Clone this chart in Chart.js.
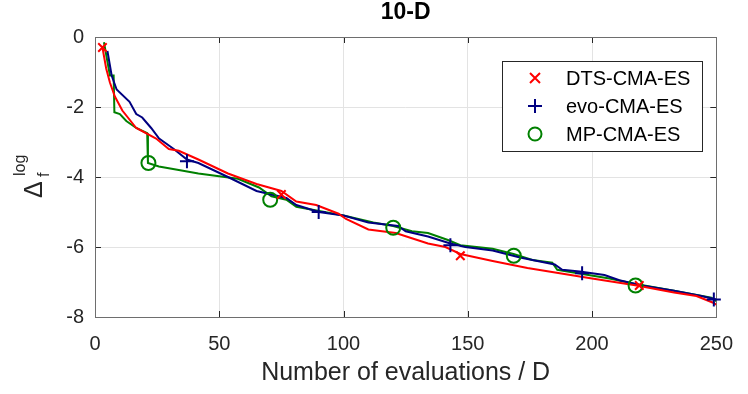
<!DOCTYPE html>
<html>
<head>
<meta charset="utf-8">
<script src="https://cdn.jsdelivr.net/npm/chart.js@4/dist/chart.umd.min.js"></script>
<style>
  html, body { margin: 0; padding: 0; background: #fff; }
  #wrap { width: 748px; height: 394px; }
</style>
</head>
<body>
<div id="wrap"><canvas id="chart" width="748" height="394"></canvas></div>
<script>
// x ticks / y ticks
const xTicks = [0, 50, 100, 150, 200, 250];
const yTicks = [0, -2, -4, -6, -8];

// DTS-CMA-ES (red)
const dtsX = [3, 4.5, 6, 8, 11, 16.6, 24.6, 29.7, 33.7, 41.6, 53.5, 65, 75, 81, 89, 98, 101, 110, 121, 134, 141, 147, 160, 174, 187, 200, 209, 218, 233, 242, 249, 250];
const dtsY = [-0.3, -0.9, -1.3, -1.7, -2.1, -2.6, -2.9, -3.2, -3.25, -3.5, -3.9, -4.2, -4.4, -4.7, -4.8, -5.05, -5.2, -5.5, -5.6, -5.9, -6.0, -6.2, -6.4, -6.6, -6.75, -6.9, -7.0, -7.1, -7.3, -7.4, -7.6, -7.65];
const dtsMarkX = [3, 75, 147, 219];
const dtsMarkY = [-0.3, -4.5, -6.25, -7.1];

// evo-CMA-ES (blue)
const evoX = [5, 6.7, 8.7, 13.9, 16.6, 19, 22.6, 25.8, 31.7, 37, 41.6, 53.5, 65, 77, 81, 90, 100, 110, 122, 125, 134, 143, 149, 160, 171, 185, 188, 195, 205, 211, 220, 233, 244, 250];
const evoY = [-0.4, -1.1, -1.5, -1.85, -2.2, -2.3, -2.6, -2.9, -3.2, -3.5, -3.6, -4.0, -4.4, -4.6, -4.8, -5.0, -5.1, -5.3, -5.4, -5.55, -5.7, -5.9, -6.0, -6.1, -6.3, -6.5, -6.65, -6.7, -6.8, -6.95, -7.1, -7.25, -7.4, -7.5];
const evoMarkX = [37, 90, 143, 196, 249];
const evoMarkY = [-3.55, -5.0, -5.95, -6.75, -7.5];

// MP-CMA-ES (green)
const mpX = [3.6, 6, 7.5, 7.8, 10, 12.6, 16.6, 21, 21.3, 25.7, 33.7, 41.6, 57.5, 66, 71, 77, 81, 88.6, 100, 112, 120, 127.5, 134, 142, 147, 160, 168.4, 176, 184, 186, 207, 217, 233, 248, 250];
const mpY = [-0.15, -1.1, -1.1, -2.15, -2.2, -2.4, -2.6, -2.75, -3.6, -3.7, -3.8, -3.9, -4.05, -4.3, -4.55, -4.65, -4.85, -4.95, -5.1, -5.3, -5.4, -5.55, -5.6, -5.8, -5.95, -6.05, -6.2, -6.37, -6.45, -6.65, -6.9, -7.05, -7.25, -7.45, -7.55];
const mpMarkX = [21.5, 70.5, 120, 168.5, 217.5];
const mpMarkY = [-3.6, -4.65, -5.45, -6.25, -7.1];

const seriesNames = ['DTS-CMA-ES', 'evo-CMA-ES', 'MP-CMA-ES'];
const seriesColors = ['#ff0000', '#000080', '#008000'];
const seriesStyles = ['crossRot', 'cross', 'circle'];

const FONT = "'Liberation Sans', Arial, Helvetica, sans-serif";
const INK = '#262626';

function pts(xs, ys) {
    return xs.map((x, i) => ({ x: x, y: ys[i] }));
}

const lines = [[dtsX, dtsY], [evoX, evoY], [mpX, mpY]];
const marks = [[dtsMarkX, dtsMarkY], [evoMarkX, evoMarkY], [mpMarkX, mpMarkY]];
const markSizes = [6, 7, 7];

const datasets = [];
for (let i = 0; i < 3; i++) {
    datasets.push({
        label: seriesNames[i] + ' marks',
        data: pts(marks[i][0], marks[i][1]),
        showLine: false,
        pointStyle: seriesStyles[i],
        pointRadius: markSizes[i],
        borderColor: seriesColors[i],
        backgroundColor: 'rgba(0,0,0,0)',
        pointBorderWidth: 2,
        clip: false,
        order: i
    });
}
for (let i = 0; i < 3; i++) {
    datasets.push({
        label: seriesNames[i],
        data: pts(lines[i][0], lines[i][1]),
        showLine: true,
        borderColor: seriesColors[i],
        borderWidth: 2,
        pointRadius: 0,
        tension: 0,
        order: 3 + i
    });
}

// box, inward ticks, titles and legend
const decorPlugin = {
    id: 'decor',
    beforeDatasetsDraw(chart) {
        const ctx = chart.ctx;
        const a = chart.chartArea;
        const xs = chart.scales.x, ys = chart.scales.y;
        ctx.save();
        ctx.strokeStyle = INK;
        ctx.lineWidth = 1;
        ctx.beginPath();
        xTicks.forEach(v => {
            const px = Math.round(xs.getPixelForValue(v)) + 0.5;
            ctx.moveTo(px, a.bottom); ctx.lineTo(px, a.bottom - 6);
            ctx.moveTo(px, a.top); ctx.lineTo(px, a.top + 6);
        });
        yTicks.forEach(v => {
            const py = Math.round(ys.getPixelForValue(v)) + 0.5;
            ctx.moveTo(a.left, py); ctx.lineTo(a.left + 6, py);
            ctx.moveTo(a.right, py); ctx.lineTo(a.right - 6, py);
        });
        ctx.stroke();
        ctx.strokeStyle = '#6e6e6e';
        ctx.strokeRect(Math.round(a.left) + 0.5, Math.round(a.top) + 0.5,
                       Math.round(a.right - a.left), Math.round(a.bottom - a.top));
        ctx.restore();
    },
    afterDraw(chart) {
        const ctx = chart.ctx;
        const a = chart.chartArea;
        ctx.save();
        ctx.fillStyle = '#000';
        ctx.textAlign = 'center';
        ctx.textBaseline = 'middle';
        ctx.font = 'bold 23px ' + FONT;
        ctx.fillText('10-D', (a.left + a.right) / 2, 13);

        ctx.fillStyle = INK;
        ctx.font = '25px ' + FONT;
        ctx.fillText('Number of evaluations / D', (a.left + a.right) / 2, 373);

        // y label: Delta_f^log
        ctx.save();
        ctx.rotate(-Math.PI / 2);
        ctx.textAlign = 'left';
        ctx.textBaseline = 'alphabetic';
        ctx.font = '25px ' + FONT;
        ctx.fillText('\u0394', -198, 42);
        ctx.font = '16px ' + FONT;
        ctx.fillText('f', -177, 49);
        ctx.fillText('log', -176, 25);
        ctx.restore();

        // legend
        const L = 502, T = 61, R = 702, B = 151;
        ctx.fillStyle = '#fff';
        ctx.fillRect(L, T, R - L, B - T);
        ctx.strokeStyle = INK;
        ctx.lineWidth = 1;
        ctx.strokeRect(L + 0.5, T + 0.5, R - L, B - T);
        const rows = [78, 106, 134];
        for (let i = 0; i < 3; i++) {
            const cx = 535, cy = rows[i];
            ctx.strokeStyle = seriesColors[i];
            ctx.lineWidth = 2;
            ctx.beginPath();
            if (i === 0) {
                ctx.moveTo(cx - 5, cy - 5); ctx.lineTo(cx + 5, cy + 5);
                ctx.moveTo(cx - 5, cy + 5); ctx.lineTo(cx + 5, cy - 5);
            } else if (i === 1) {
                ctx.moveTo(cx - 7, cy); ctx.lineTo(cx + 7, cy);
                ctx.moveTo(cx, cy - 7); ctx.lineTo(cx, cy + 7);
            } else {
                ctx.arc(cx, cy, 6.5, 0, Math.PI * 2);
            }
            ctx.stroke();
            ctx.fillStyle = '#000';
            ctx.font = '20px ' + FONT;
            ctx.textAlign = 'left';
            ctx.textBaseline = 'middle';
            ctx.fillText(seriesNames[i], 566, cy + 1);
        }
        ctx.restore();
    }
};

new Chart(document.getElementById('chart'), {
    type: 'scatter',
    data: { datasets: datasets },
    plugins: [decorPlugin],
    options: {
        responsive: false,
        animation: false,
        layout: { padding: { top: 37, right: 23, left: 0, bottom: 0 } },
        plugins: {
            legend: { display: false },
            tooltip: { enabled: false },
            title: { display: false }
        },
        scales: {
            x: {
                type: 'linear',
                min: 0, max: 250,
                afterBuildTicks: s => { s.ticks = xTicks.map(v => ({ value: v })); },
                afterFit: s => { s.height = 77; },
                grid: { color: '#e3e3e3', lineWidth: 1, drawTicks: false },
                border: { display: false },
                ticks: { padding: 15, color: INK, font: { family: FONT, size: 20 }, maxRotation: 0 }
            },
            y: {
                type: 'linear',
                min: -8, max: 0,
                afterBuildTicks: s => { s.ticks = yTicks.map(v => ({ value: v })); },
                afterFit: s => { s.width = 95; },
                grid: { color: '#e3e3e3', lineWidth: 1, drawTicks: false },
                border: { display: false },
                ticks: { padding: 11, color: INK, font: { family: FONT, size: 20 } }
            }
        }
    }
});
</script>
</body>
</html>
